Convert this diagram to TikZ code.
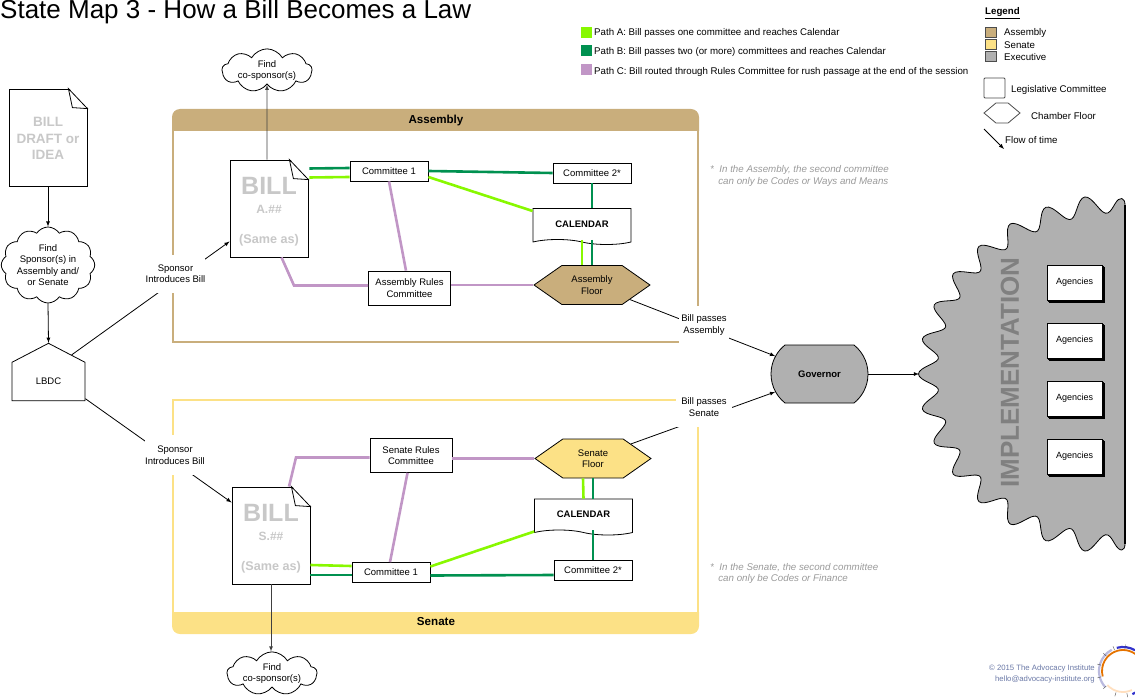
\documentclass[tikz,border=0pt]{standalone}
\usepackage{fontspec}
\setmainfont{Liberation Sans}
\usetikzlibrary{shapes.symbols,shapes.misc,shadows}

\definecolor{asmcol}{HTML}{C9AE7C}
\definecolor{sencol}{HTML}{FCE186}
\definecolor{execol}{HTML}{B0B0B0}
\definecolor{pathacol}{HTML}{88F800}
\definecolor{pathbcol}{HTML}{009150}
\definecolor{pathccol}{HTML}{C196C6}
\definecolor{doccol}{HTML}{C8C8C8}
\definecolor{notecol}{HTML}{9A9A9A}
\definecolor{credcol}{HTML}{6A78A6}

\tikzset{
  txt/.style={font=\fontsize{9.5}{11.5}\selectfont,align=center,inner sep=0pt},
  box/.style={txt,draw,fill=white,line width=0.8pt},
  committee/.style={box,minimum width=78pt,minimum height=20pt},
  rulesbox/.style={box,minimum width=82pt,minimum height=34pt},
  calendar/.style={box,shape=tape,tape bend top=none,tape bend bottom=out and in,
    tape bend height=5pt,minimum width=98pt,minimum height=36pt,font=\fontsize{9.5}{11.5}\bfseries\selectfont},
  floorhex/.style={box,shape=signal,signal to=east and west,signal pointer angle=70,
    minimum width=116pt,minimum height=39pt},
  docbox/.style={box,minimum width=78pt,minimum height=97pt,text=doccol,font=\bfseries},
  cosponsor/.style={box,shape=cloud,cloud puffs=9,cloud puff arc=120,cloud ignores aspect,
    minimum width=90pt,minimum height=42pt},
  agency/.style={box,minimum width=55pt,minimum height=35pt,font=\fontsize{9}{10}\selectfont,
    double copy shadow={shadow xshift=1.4pt,shadow yshift=-1.2pt}},
  whitelabel/.style={txt,fill=white,minimum width=56pt,minimum height=38pt},
  leg/.style={txt,anchor=west,font=\fontsize{9.7}{11}\selectfont},
  swatch/.style={inner sep=0pt,minimum size=11pt},
  legswatch/.style={swatch,draw=black!70,line width=0.7pt,minimum width=11pt,minimum height=10pt},
  note/.style={txt,anchor=north west,align=left,text=notecol,font=\fontsize{9.75}{11.5}\itshape\selectfont},
  pathA/.style={draw=pathacol,line width=2.6pt},
  pathB/.style={draw=pathbcol,line width=2.6pt},
  pathC/.style={draw=pathccol,line width=2.6pt},
  flow/.style={->,line width=0.8pt}
}

\begin{document}
\begin{tikzpicture}[x=1pt,y=-1pt,>=latex]
  \path[use as bounding box,clip] (0,0) rectangle (1135,698);

  % Title
  \node[anchor=base west,inner sep=0pt,font=\fontsize{26}{26}\selectfont] (title) at (0,19) {State Map 3 - How a Bill Becomes a Law};

  % Chamber frames
  \draw[asmcol,line width=2.4pt] (173,118) rectangle (698,342);
  \fill[asmcol] (172,131) [rounded corners=8pt] -- (172,109) -- (699,109) [sharp corners] -- (699,131) -- cycle;
  \node[txt,font=\fontsize{11.6}{13}\bfseries\selectfont] (asmhead) at (436,120.5) {Assembly};
  \draw[sencol,line width=2.4pt] (173,400) rectangle (698,625);
  \fill[sencol] (172,612) [rounded corners=8pt] -- (172,634) -- (699,634) [sharp corners] -- (699,612) -- cycle;
  \node[txt,font=\fontsize{11.6}{13}\bfseries\selectfont] (senhead) at (436,622) {Senate};

  % Implementation
  \fill[execol,draw=black,line width=0.8pt] plot[smooth,domain=-87:87,samples=233,variable=\t]
    ({1125-(197+9.5*cos(32*\t))*cos(\t)},{374+(171+9.5*cos(32*\t))*sin(\t)})
    .. controls (1120,553) and (1125,551) .. (1125,544) -- (1125,205) .. controls (1125,198) and (1120,195) .. cycle;
  \draw[line width=1.6pt] (1125,205) -- (1125,544);
  \coordinate (impltip) at (919,374);
  \node[rotate=90,inner sep=0pt,text=black!50,font=\fontsize{26}{26}\bfseries\selectfont] (impl) at (1010,372.5) {IMPLEMENTATION};
  \foreach \n/\y in {1/282.5,2/340.5,3/398.5,4/456.5} {
    \node[agency] (agency\n) at (1074.5,\y) {Agencies};
  }

  % Left column
  \node[docbox,font=\fontsize{13.5}{16.5}\bfseries\selectfont] (draft) at (48,137.5) {\rule{0pt}{12pt}BILL\\DRAFT or\\IDEA};
  \node[cosponsor,cloud puffs=12,cloud puff arc=115,minimum width=90pt,minimum height=76pt] (sponsor) at (48,265) {Find\\Sponsor(s) in\\Assembly and/\\or Senate};
  \node[box,shape=signal,signal to=north,signal pointer angle=125,minimum width=73pt,minimum height=45pt] (lbdc) at (48.5,381.5) {LBDC};
  \node[cosponsor] (cosA) at (267,70.5) {Find\\co-sponsor(s)};
  \node[cosponsor] (cosS) at (272,673.5) {Find\\co-sponsor(s)};

  % Assembly
  \node[docbox] (billA) at (269,208.5) {\fontsize{25}{25}\selectfont\rule{0pt}{24pt}BILL\\[7pt]\fontsize{12}{14}\selectfont A.\#\#\\[18pt]\fontsize{12.6}{14}\selectfont(Same as)};
  \node[committee] (commA1) at (389,171) {Committee 1};
  \node[committee] (commA2) at (592,173) {Committee 2*};
  \node[calendar] (calA) at (582,224) {CALENDAR};
  \node[rulesbox] (rulesA) at (409.5,288) {Assembly Rules\\Committee};
  \node[floorhex,fill=asmcol] (floorA) at (592,285) {Assembly\\Floor};
  \coordinate (bendA) at (294,285.5);

  % Senate
  \node[docbox] (billS) at (271,535.5) {\fontsize{25}{25}\selectfont\rule{0pt}{24pt}BILL\\[7pt]\fontsize{12}{14}\selectfont S.\#\#\\[18pt]\fontsize{12.6}{14}\selectfont(Same as)};
  \node[committee] (commS1) at (391,572.5) {Committee 1};
  \node[committee] (commS2) at (593,570.5) {Committee 2*};
  \node[calendar] (calS) at (583.5,514.5) {CALENDAR};
  \node[rulesbox] (rulesS) at (411,455.5) {Senate Rules\\Committee};
  \node[floorhex,fill=sencol] (floorS) at (593,458.5) {Senate\\Floor};
  \coordinate (bendS) at (296,457.5);

  % Governor
  \node[box,shape=rounded rectangle,rounded rectangle arc length=103,fill=execol,minimum width=97pt,minimum height=58pt,font=\fontsize{9.5}{11.5}\bfseries\selectfont] (governor) at (819.5,374) {Governor};

  % Paths through the Assembly
  \draw[pathB] ([yshift=40pt]billA.east) -- ([yshift=3pt]commA1.west);
  \draw[pathA] ([yshift=31pt]billA.east) -- ([yshift=-6pt]commA1.west);
  \draw[pathB] ([yshift=0pt]commA1.east) -- ([yshift=0pt]commA2.west);
  \draw[pathA] ([yshift=-6pt]commA1.east) -- ([yshift=13pt]calA.west);
  \draw[pathB] (commA2.south) -- ([xshift=10pt]calA.north);
  \draw[pathB] ([xshift=10pt]calA.south) -- (floorA.north);
  \draw[pathA] (calA.south) -- ([xshift=-10pt]floorA.north);
  \draw[pathC] ([xshift=12.5pt]billA.south) -- (bendA) -- ([yshift=2.5pt]rulesA.west);
  \draw[pathC] ([yshift=3pt]rulesA.east) -- (floorA.west);
  \draw[pathC] (commA1.south) -- ([xshift=-3.5pt]rulesA.north);

  % Paths through the Senate
  \draw[pathA] ([yshift=-29.5pt]billS.east) -- ([yshift=6.5pt]commS1.west);
  \draw[pathB] ([yshift=-39.5pt]billS.east) -- ([yshift=-2.5pt]commS1.west);
  \draw[pathB] ([yshift=-3pt]commS1.east) -- ([yshift=-4.5pt]commS2.west);
  \draw[pathA] ([yshift=6pt]commS1.east) -- ([yshift=-17pt]calS.west);
  \draw[pathB] (commS2.north) -- ([xshift=9.5pt]calS.south);
  \draw[pathB] (floorS.south) -- ([xshift=9.5pt]calS.north);
  \draw[pathA] ([xshift=-10pt]floorS.south) -- (calS.north);
  \draw[pathC] ([xshift=18pt]billS.north) -- (bendS) -- ([yshift=-2pt]rulesS.west);
  \draw[pathC] ([yshift=-3pt]rulesS.east) -- (floorS.west);
  \draw[pathC] ([xshift=-3.5pt]rulesS.south) -- ([xshift=-1pt]commS1.north);

  % Flow of time
  \draw[flow] (draft.south) -- (sponsor.south |- sponsor.north);
  \draw[flow] (sponsor.south) -- (lbdc.north);
  \draw[flow] (lbdc.49) -- ([yshift=-33pt]billA.west);
  \draw[flow] (lbdc.-25) -- ([yshift=33pt]billS.west);
  \draw[flow,draw=black!75] ([xshift=-2pt]billA.north) -- (cosA.south);
  \draw[flow,draw=black!75] (billS.south) -- ([xshift=-1pt]cosS.north);
  \draw[flow] (floorA.-21) -- (governor.158);
  \draw[flow] (floorS.21) -- (governor.202);
  \draw[flow] (governor.east) -- (impltip);

  % Folded corners
  \foreach \doc in {draft,billA,billS} {
    \fill[white] ([shift={(-19,-1)}]\doc.north east) -- ([shift={(1,-1)}]\doc.north east) -- ([shift={(1,20)}]\doc.north east) -- cycle;
    \draw[line width=0.8pt] ([shift={(-19,0)}]\doc.north east) -- ([shift={(-15,19)}]\doc.north east) -- ([shift={(0,20)}]\doc.north east) -- cycle;
  }

  % Labels on the connectors
  \node[whitelabel,minimum width=59pt] (introA) at (175.5,273.5) {Sponsor\\Introduces Bill};
  \node[whitelabel,minimum width=59pt,minimum height=40pt] (introS) at (175,455) {Sponsor\\Introduces Bill};
  \node[whitelabel,minimum width=50pt] (passA) at (704,325) {Bill passes\\Assembly};
  \node[whitelabel,minimum height=40pt] (passS) at (704,407) {Bill passes\\Senate};

  % Notes
  \node[note] (noteA) at (710,165.5) {*\ \ In the Assembly, the second committee\\\ \ \ can only be Codes or Ways and Means};
  \node[note] (noteS) at (710,563) {*\ \ In the Senate, the second committee\\\ \ \ can only be Codes or Finance};

  % Path key
  \node[swatch,fill=pathacol] (keyA) at (586.5,32.5) {};
  \node[leg] (keyAtxt) at (594,33) {Path A: Bill passes one committee and reaches Calendar};
  \node[swatch,fill=pathbcol] (keyB) at (586.5,50.5) {};
  \node[leg] (keyBtxt) at (594,52) {Path B: Bill passes two (or more) committees and reaches Calendar};
  \node[swatch,fill=pathccol] (keyC) at (586.5,69.5) {};
  \node[leg] (keyCtxt) at (594,72) {Path C: Bill routed through Rules Committee for rush passage at the end of the session};

  % Legend
  \node[leg,font=\fontsize{9.7}{11}\bfseries\selectfont] (legend) at (985,13.5) {\underline{Legend}};
  \foreach \n/\c/\y/\t in {asm/asmcol/32/Assembly,sen/sencol/44/Senate,exe/execol/56/Executive} {
    \node[legswatch,fill=\c] (leg\n) at (990.5,\y) {};
    \node[leg] (leg\n txt) at (1004,\y+1) {\t};
  }
  \node[box,rounded corners=1pt,draw=black!70,minimum width=21pt,minimum height=20pt] (legcomm) at (994.5,88) {};
  \node[leg] (legcommtxt) at (1011,90) {Legislative Committee};
  \node[box,shape=signal,signal to=east and west,signal pointer angle=80,draw=black!70,minimum width=36pt,minimum height=20pt] (leghex) at (1002,113) {};
  \node[leg] (leghextxt) at (1031,116) {Chamber Floor};
  \coordinate (legfrom) at (984,129);
  \coordinate (legto) at (1004,149);
  \draw[flow] (legfrom) -- (legto);
  \node[leg] (legflow) at (1005,140) {Flow of time};

  % Credit
  \node[txt,anchor=east,align=right,text=credcol,font=\fontsize{7.75}{11}\selectfont] (credit) at (1095,673.5) {\textcopyright{} 2015 The Advocacy Institute\\hello@advocacy-institute.org};
  \coordinate (logo) at (1123,671);
  \draw[orange!90!black,line width=1.8pt] (logo) ++(165:21) arc[start angle=165,end angle=320,radius=21];
  \draw[orange!25,line width=1.8pt] (logo) ++(65:21) arc[start angle=65,end angle=138,radius=21];
  \draw[blue!35!gray!40,line width=2.2pt] (logo) ++(138:24) arc[start angle=138,end angle=242,radius=24];
  \draw[blue!60!gray,line width=2.2pt] (logo) ++(255:24) arc[start angle=255,end angle=300,radius=24];
  \draw[blue!60!gray,line width=2.2pt] (logo) ++(55:25) arc[start angle=55,end angle=68,radius=25];
  \foreach \a in {80,108,138,165,195,222,248,275} {
    \draw[black!70,line width=0.4pt] (logo) ++(\a:22.5) -- ++(\a:4);
  }

\end{tikzpicture}
\end{document}
